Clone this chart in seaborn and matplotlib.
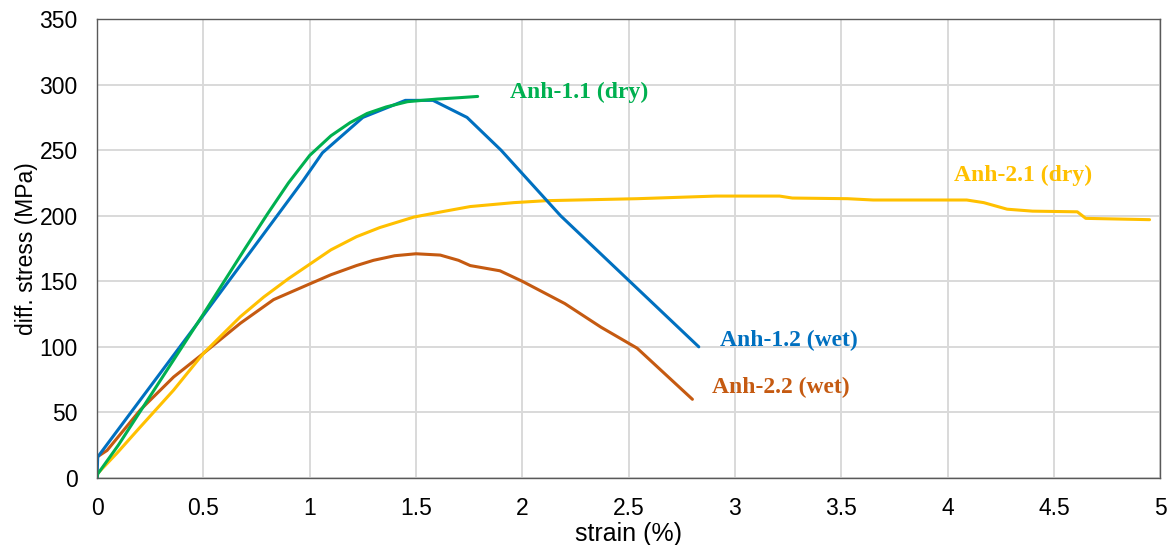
import matplotlib
matplotlib.use("Agg")
import matplotlib.pyplot as plt
import seaborn as sns
import pandas as pd

# ---- data ----
anh11_strain = [0.0, 0.003, 0.1, 0.3, 0.5, 0.7, 0.8, 0.9, 1.0, 1.1, 1.19, 1.27, 1.36, 1.46, 1.6, 1.7, 1.79]
anh11_stress = [0, 3, 25, 75, 125, 176, 201, 225, 246, 261, 271, 278, 283, 287, 289, 290, 291]

anh12_strain = [0.0, 0.003, 0.5, 0.97, 1.06, 1.25, 1.45, 1.58, 1.74, 1.9, 2.18, 2.83]
anh12_stress = [0, 16, 124, 227, 248, 275, 288, 288, 275, 250, 200, 100]

anh21_strain = [0.0, 0.094, 0.204, 0.36, 0.5, 0.674, 0.784, 0.9, 1.0, 1.1, 1.22, 1.33, 1.49, 1.62,
                1.755, 1.96, 2.115, 2.54, 2.91, 3.21, 3.27, 3.53, 3.65, 4.09, 4.17, 4.28, 4.4,
                4.61, 4.65, 4.95]
anh21_stress = [3, 19, 39, 67, 95, 123, 138, 152, 163, 174, 184, 191, 199, 203,
                207, 210, 211.5, 213, 215, 215, 213.5, 213, 212, 212, 210, 205, 203.5,
                203, 198, 197]

anh22_strain = [0.0, 0.047, 0.204, 0.36, 0.5, 0.674, 0.83, 1.0, 1.1, 1.22, 1.3, 1.4, 1.5, 1.614,
                1.7, 1.755, 1.895, 2.0, 2.2, 2.37, 2.54, 2.8]
anh22_stress = [16, 21, 52, 77, 95, 118, 136, 148, 155, 162, 166, 169.5, 171, 170,
                166, 162, 158, 150, 133, 115, 99, 60]

series_names = ["Anh-1.1 (dry)", "Anh-1.2 (wet)", "Anh-2.1 (dry)", "Anh-2.2 (wet)"]
series_colors = ["#00B050", "#0070C0", "#FFC000", "#C55A11"]

x_ticks = [0, 0.5, 1, 1.5, 2, 2.5, 3, 3.5, 4, 4.5, 5]
x_tick_labels = ["0", "0.5", "1", "1.5", "2", "2.5", "3", "3.5", "4", "4.5", "5"]
y_ticks = [0, 50, 100, 150, 200, 250, 300, 350]

label_pos = {
    "Anh-1.1 (dry)": (1.94, 294),
    "Anh-2.1 (dry)": (4.03, 231),
    "Anh-1.2 (wet)": (2.93, 105),
    "Anh-2.2 (wet)": (2.89, 69),
}

frames = []
for name, xs, ys in zip(series_names,
                        [anh11_strain, anh12_strain, anh21_strain, anh22_strain],
                        [anh11_stress, anh12_stress, anh21_stress, anh22_stress]):
    d = pd.DataFrame({"strain": xs, "stress": ys})
    d["sample"] = name
    frames.append(d)
df = pd.concat(frames, ignore_index=True)

sns.set_theme(style="whitegrid")
plt.rcParams["font.family"] = ["Liberation Sans", "DejaVu Sans"]

fig = plt.figure(figsize=(11.75, 5.45), dpi=100)
ax = fig.add_axes([0.0826, 0.123, 0.9048, 0.842])

palette = dict(zip(series_names, series_colors))
for name in ["Anh-2.2 (wet)", "Anh-2.1 (dry)", "Anh-1.2 (wet)", "Anh-1.1 (dry)"]:
    sub = df[df["sample"] == name]
    sns.lineplot(data=sub, x="strain", y="stress", color=palette[name],
                 sort=False, estimator=None, linewidth=2.2, ax=ax, legend=False)

for name, color in zip(series_names, series_colors):
    x, y = label_pos[name]
    ax.text(x, y, name, color=color, fontsize=17, fontweight="bold",
            family=["Liberation Serif", "DejaVu Serif"], va="center", ha="left")

ax.set_xlim(0, 5)
ax.set_ylim(0, 350)
ax.set_xticks(x_ticks)
ax.set_xticklabels(x_tick_labels)
ax.set_yticks(y_ticks)
ax.tick_params(axis="both", length=0, labelsize=16.5, colors="#000000", pad=14)
ax.grid(True, color="#D9D9D9", linewidth=1.4)
for s in ax.spines.values():
    s.set_visible(True)
    s.set_color("#595959")
    s.set_linewidth(1.0)
ax.set_xlabel("strain (%)", fontsize=18, labelpad=1, color="#000000")
ax.set_ylabel("diff. stress (MPa)", fontsize=16.5, labelpad=1, color="#000000")

fig.savefig("out.png", dpi=100, facecolor="white")
